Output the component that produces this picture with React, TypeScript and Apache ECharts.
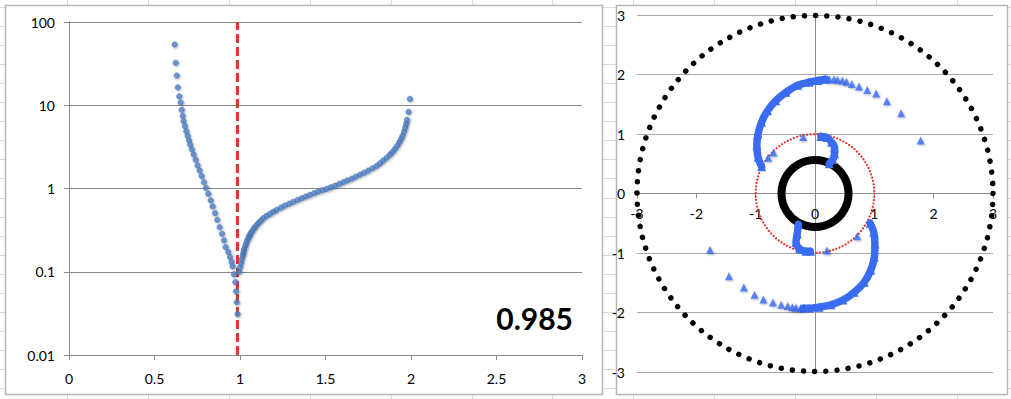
import React, { useEffect, useRef } from 'react';
import * as echarts from 'echarts';

// ---------- Left panel data ----------
const THRESHOLD = 0.985;
const LEFT_X_TICKS = [0, 0.5, 1, 1.5, 2, 2.5, 3];
const LEFT_Y_TICKS = [0.01, 0.1, 1, 10, 100];

const LEFT_BRANCH: number[][] = [
  [0.618, 53.6], [0.624, 32.3], [0.63, 22.7], [0.636, 16.4], [0.645, 12.8], [0.653, 10.8],
  [0.659, 8.8], [0.665, 7.45], [0.67, 6.43], [0.678, 5.6], [0.686, 4.87], [0.694, 4.3],
  [0.702, 3.77], [0.709, 3.35], [0.719, 2.94], [0.729, 2.56], [0.741, 2.21], [0.752, 1.89],
  [0.764, 1.64], [0.776, 1.41], [0.789, 1.19], [0.801, 1.02], [0.815, 0.863], [0.829, 0.718],
  [0.84, 0.608], [0.854, 0.506], [0.867, 0.421], [0.881, 0.343], [0.895, 0.286], [0.906, 0.238],
  [0.916, 0.198], [0.932, 0.172], [0.942, 0.15], [0.951, 0.131], [0.957, 0.116], [0.965, 0.093],
  [0.973, 0.075], [0.977, 0.058], [0.981, 0.043], [0.986, 0.031],
];

const RIGHT_BRANCH: number[][] = [
  [0.994, 0.1], [1.0, 0.113], [1.006, 0.127], [1.011, 0.142], [1.016, 0.157], [1.02, 0.17],
  [1.023, 0.184], [1.029, 0.2], [1.035, 0.217], [1.042, 0.236], [1.049, 0.256], [1.055, 0.273],
  [1.062, 0.291], [1.072, 0.312], [1.082, 0.334], [1.094, 0.358], [1.107, 0.384], [1.121, 0.411],
  [1.136, 0.44], [1.155, 0.468], [1.175, 0.497], [1.195, 0.526], [1.215, 0.555], [1.24, 0.59],
  [1.263, 0.625], [1.288, 0.658], [1.312, 0.692], [1.337, 0.728], [1.361, 0.765], [1.385, 0.802],
  [1.409, 0.84], [1.434, 0.88], [1.458, 0.92], [1.483, 0.955], [1.507, 0.99], [1.532, 1.035],
  [1.556, 1.08], [1.58, 1.135], [1.604, 1.19], [1.628, 1.25], [1.653, 1.31], [1.677, 1.385],
  [1.702, 1.47], [1.726, 1.55], [1.75, 1.64], [1.775, 1.75], [1.799, 1.87], [1.819, 2.01],
  [1.838, 2.17], [1.858, 2.35], [1.877, 2.56], [1.892, 2.76], [1.906, 2.99], [1.92, 3.28],
  [1.932, 3.6], [1.942, 3.95], [1.951, 4.33], [1.96, 4.85], [1.967, 5.44], [1.972, 6.0],
  [1.977, 6.67], [1.986, 8.3], [1.994, 11.9],
];

// ---------- Right panel data ----------
const RIGHT_TICKS = [-3, -2, -1, 0, 1, 2, 3];
const CENTER = [0, 0];
const OUTER_DOT_RADIUS = 3;
const UNIT_DOT_RADIUS = 1;
const CORE_RADIUS = 0.565;

const UPPER_ARM: number[][] = [
  [-0.9, 0.45], [-0.96, 0.61], [-0.98, 0.81], [-0.96, 1.0], [-0.9, 1.2], [-0.8, 1.39],
  [-0.66, 1.56], [-0.49, 1.7], [-0.29, 1.82], [-0.1, 1.87], [0.05, 1.9], [0.18, 1.92],
];
const UPPER_TAIL: number[][] = [
  [0.24, 1.92], [0.32, 1.92], [0.38, 1.91], [0.46, 1.9], [0.53, 1.88], [0.62, 1.84],
  [0.74, 1.8], [0.88, 1.74], [1.03, 1.68], [1.21, 1.55], [1.45, 1.35], [1.78, 0.89],
];
const UPPER_HOOK: number[][] = [
  [0.1, 0.96], [0.2, 0.94], [0.28, 0.86], [0.33, 0.77], [0.33, 0.67], [0.3, 0.57], [0.24, 0.5],
];
const UPPER_STRAY: number[][] = [[-0.2, 0.95], [-0.7, 0.69], [-0.79, 0.6]];

const LOWER_ARM: number[][] = [
  [0.93, -0.5], [0.99, -0.65], [1.01, -0.85], [1.0, -1.07], [0.94, -1.29], [0.83, -1.49],
  [0.66, -1.66], [0.47, -1.79], [0.27, -1.87], [0.07, -1.91], [-0.1, -1.93], [-0.19, -1.93],
];
const LOWER_TAIL: number[][] = [
  [-0.24, -1.92], [-0.32, -1.92], [-0.38, -1.91], [-0.46, -1.89], [-0.57, -1.87], [-0.71, -1.83],
  [-0.87, -1.78], [-1.02, -1.7], [-1.2, -1.58], [-1.45, -1.39], [-1.77, -0.95],
];
const LOWER_HOOK: number[][] = [
  [-0.28, -0.52], [-0.3, -0.68], [-0.32, -0.82], [-0.26, -0.93], [-0.15, -0.97], [-0.08, -0.97],
];
const LOWER_STRAY: number[][] = [[0.2, -0.96], [0.71, -0.72]];

const FONT = 'Lato, "Noto Sans", sans-serif';
const LEFT_BLUE = '#5083c8';
const TRI_BLUE = '#3a6cf2';

const RIGHT_GRID = { left: 637, top: 15, width: 356, height: 357 };

function ringSeries(radius: number, color: string, width: number, dotCount: number) {
  return {
    type: 'custom',
    xAxisIndex: 1,
    yAxisIndex: 1,
    silent: true,
    z: 2,
    data: [[CENTER[0], CENTER[1], radius]],
    renderItem: (_params: any, api: any) => {
      const c = api.coord([api.value(0), api.value(1)]);
      const r = api.size([api.value(2), 0])[0];
      const style: any = { fill: 'none', stroke: color, lineWidth: width };
      if (dotCount > 0) {
        style.lineDash = [0.001, (2 * Math.PI * r) / dotCount];
        style.lineCap = 'round';
      }
      return { type: 'circle', shape: { cx: c[0], cy: c[1], r }, style };
    },
  };
}

const shadow = {
  shadowBlur: 2,
  shadowColor: 'rgba(0,0,0,0.35)',
  shadowOffsetX: 1,
  shadowOffsetY: 1,
};

function armLine(data: number[][]) {
  return {
    type: 'line',
    xAxisIndex: 1,
    yAxisIndex: 1,
    data,
    smooth: 0.3,
    symbol: 'triangle',
    symbolSize: 9,
    showSymbol: true,
    showAllSymbol: true,
    lineStyle: { color: TRI_BLUE, width: 7.5, cap: 'round', join: 'round' },
    itemStyle: { color: TRI_BLUE },
    z: 4,
  };
}

function triScatter(data: number[][]) {
  return {
    type: 'scatter',
    xAxisIndex: 1,
    yAxisIndex: 1,
    data,
    symbol: 'triangle',
    symbolSize: 8,
    itemStyle: { color: TRI_BLUE, ...shadow },
    z: 4,
  };
}

export default function App() {
  const ref = useRef<HTMLDivElement>(null);

  useEffect(() => {
    if (!ref.current) return;
    const chart = echarts.init(ref.current, undefined, { renderer: 'svg' });

    const bgLines: any[] = [];
    for (let k = 0; k < 13; k++) {
      const x = Math.round(67 + 80.9 * k) + 0.5;
      bgLines.push({ type: 'line', z: -3, shape: { x1: x, y1: 0, x2: x, y2: 399 }, style: { stroke: '#d9d9d9', lineWidth: 1 } });
    }
    for (let k = 0; k < 22; k++) {
      const y = Math.round(7 + 19.05 * k) + 0.5;
      bgLines.push({ type: 'line', z: -3, shape: { x1: 0, y1: y, x2: 1011, y2: y }, style: { stroke: '#d9d9d9', lineWidth: 1 } });
    }

    const axisLabelStyle = { color: '#000', fontSize: 14, fontFamily: FONT };
    // The right panel's x axis crosses at y = 0, i.e. the middle of the symmetric [-3, 3] range.
    const rightXAxisOffset = -RIGHT_GRID.height / 2;

    chart.setOption({
      animation: false,
      backgroundColor: '#fff',
      graphic: [
        ...bgLines,
        { type: 'rect', z: -2, shape: { x: 5.5, y: 5.5, width: 597, height: 389 }, style: { fill: '#fff', stroke: '#b5b5b5', lineWidth: 1.5 } },
        { type: 'rect', z: -2, shape: { x: 616.5, y: 5.5, width: 391, height: 389 }, style: { fill: '#fff', stroke: '#b5b5b5', lineWidth: 1.5 } },
        {
          type: 'text',
          z: 10,
          x: 573,
          y: 318,
          style: {
            text: String(THRESHOLD),
            fill: '#000',
            font: `bold 30px ${FONT}`,
            align: 'right',
            verticalAlign: 'middle',
            textAlign: 'right',
            textVerticalAlign: 'middle',
          },
        },
      ],
      grid: [
        { left: 69, top: 22, width: 513, height: 333 },
        RIGHT_GRID,
      ],
      xAxis: [
        {
          gridIndex: 0,
          type: 'value',
          min: LEFT_X_TICKS[0],
          max: LEFT_X_TICKS[LEFT_X_TICKS.length - 1],
          interval: 0.5,
          axisLine: { onZero: false, lineStyle: { color: '#8a8a8a', width: 1 } },
          axisTick: { show: true, length: 5, lineStyle: { color: '#8a8a8a' } },
          splitLine: { show: false },
          axisLabel: { ...axisLabelStyle, margin: 16 },
        },
        {
          gridIndex: 1,
          type: 'value',
          position: 'bottom',
          offset: rightXAxisOffset,
          min: RIGHT_TICKS[0],
          max: RIGHT_TICKS[RIGHT_TICKS.length - 1],
          interval: 1,
          axisLine: { onZero: false, lineStyle: { color: '#8a8a8a', width: 1 } },
          axisTick: { show: true, length: 5, lineStyle: { color: '#8a8a8a' } },
          splitLine: { show: false },
          axisLabel: { ...axisLabelStyle, margin: 13 },
        },
      ],
      yAxis: [
        {
          gridIndex: 0,
          type: 'log',
          logBase: 10,
          min: LEFT_Y_TICKS[0],
          max: LEFT_Y_TICKS[LEFT_Y_TICKS.length - 1],
          axisLine: { show: true, onZero: false, lineStyle: { color: '#8a8a8a', width: 1 } },
          axisTick: { show: true, length: 5, lineStyle: { color: '#8a8a8a' } },
          splitLine: { show: true, lineStyle: { color: '#868686', width: 1 } },
          minorTick: { show: false },
          axisLabel: {
            ...axisLabelStyle,
            margin: 14,
            formatter: (v: number) => String(Number(v.toPrecision(3))),
          },
        },
        {
          gridIndex: 1,
          type: 'value',
          min: RIGHT_TICKS[0],
          max: RIGHT_TICKS[RIGHT_TICKS.length - 1],
          interval: 1,
          axisLine: { show: true, onZero: true, onZeroAxisIndex: 1, lineStyle: { color: '#8a8a8a', width: 1 } },
          axisTick: { show: false },
          splitLine: { show: true, lineStyle: { color: '#a8a8a8', width: 1.2 } },
          axisLabel: { ...axisLabelStyle, margin: 12 },
        },
      ],
      series: [
        {
          type: 'line',
          xAxisIndex: 0,
          yAxisIndex: 0,
          data: [[THRESHOLD, LEFT_Y_TICKS[0]], [THRESHOLD, LEFT_Y_TICKS[LEFT_Y_TICKS.length - 1]]],
          symbol: 'none',
          lineStyle: { color: '#e5322d', width: 3, type: [9, 4] },
          z: 2,
          silent: true,
        },
        {
          type: 'scatter',
          xAxisIndex: 0,
          yAxisIndex: 0,
          data: LEFT_BRANCH,
          symbol: 'circle',
          symbolSize: 5.5,
          itemStyle: { color: LEFT_BLUE, borderColor: '#3f6eae', borderWidth: 0.6, ...shadow },
          z: 3,
        },
        {
          type: 'scatter',
          xAxisIndex: 0,
          yAxisIndex: 0,
          data: RIGHT_BRANCH,
          symbol: 'circle',
          symbolSize: 5.5,
          itemStyle: { color: LEFT_BLUE, borderColor: '#3f6eae', borderWidth: 0.6, ...shadow },
          z: 3,
        },
        ringSeries(OUTER_DOT_RADIUS, '#000', 5.5, 100),
        ringSeries(UNIT_DOT_RADIUS, '#e8302a', 2.2, 110),
        ringSeries(CORE_RADIUS, '#000', 8, 0),
        armLine(UPPER_ARM),
        armLine(UPPER_HOOK),
        armLine(LOWER_ARM),
        armLine(LOWER_HOOK),
        triScatter(UPPER_TAIL),
        triScatter(UPPER_STRAY),
        triScatter(LOWER_TAIL),
        triScatter(LOWER_STRAY),
      ],
    });

    return () => chart.dispose();
  }, []);

  return (
    <div
      ref={ref}
      style={{ position: 'absolute', left: 0, top: 0, width: 1011, height: 399 }}
    />
  );
}
